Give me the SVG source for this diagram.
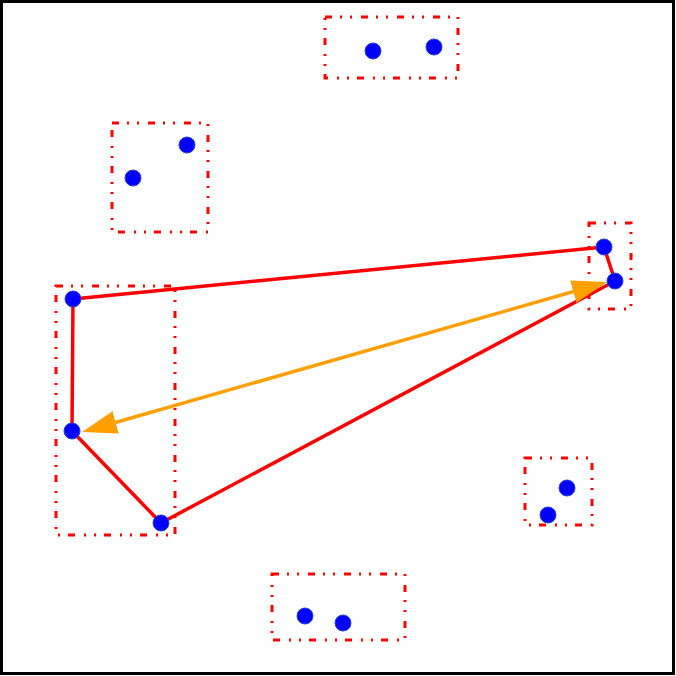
<svg xmlns="http://www.w3.org/2000/svg" width="676" height="676" viewBox="0 0 676 676">
<style>
.box{fill:none;stroke:#ff0000;stroke-width:3;stroke-dasharray:7 8 2 8 2 9}
.node{fill:#0000ff;stroke:#2a3fd8;stroke-width:1}
.edge{fill:none;stroke:#ff0000;stroke-width:3.5;stroke-linejoin:round}
.arrow{fill:none;stroke:#ffa000;stroke-width:3.5}
</style>
<defs>
<marker id="ah" markerUnits="userSpaceOnUse" markerWidth="36" markerHeight="24" refX="24" refY="11.5" orient="auto-start-reverse" viewBox="0 0 36 24">
<path d="M0,0 L35,11.5 L0,23 Z" fill="#ffa000"/>
</marker>
</defs>
<rect x="0" y="0" width="676" height="676" fill="#ffffff"/>
<rect x="1.5" y="1.5" width="672" height="672" fill="none" stroke="#000000" stroke-width="3"/>
<g id="boxes">
<rect class="box" x="325" y="17" width="133" height="61"/>
<rect class="box" x="112" y="123" width="96" height="109"/>
<rect class="box" x="589" y="223" width="42" height="86"/>
<rect class="box" x="56" y="286" width="119" height="249"/>
<rect class="box" x="525" y="458" width="67" height="67"/>
<rect class="box" x="272" y="574" width="133" height="66"/>
</g>
<g id="connectors">
<path class="edge" d="M73,299 L604,247 L615,281 L161,523 L72,431 Z"/>
<line class="arrow" x1="596.4" y1="285" x2="92.6" y2="429" marker-start="url(#ah)" marker-end="url(#ah)"/>
</g>
<g id="n1"><circle class="node" cx="373" cy="51" r="8"/></g>
<g id="n2"><circle class="node" cx="434" cy="47" r="8"/></g>
<g id="n3"><circle class="node" cx="187" cy="145" r="8"/></g>
<g id="n4"><circle class="node" cx="133" cy="178" r="8"/></g>
<g id="n5"><circle class="node" cx="604" cy="247" r="8"/></g>
<g id="n6"><circle class="node" cx="615" cy="281" r="8"/></g>
<g id="n7"><circle class="node" cx="73" cy="299" r="8"/></g>
<g id="n8"><circle class="node" cx="72" cy="431" r="8"/></g>
<g id="n9"><circle class="node" cx="161" cy="523" r="8"/></g>
<g id="n10"><circle class="node" cx="567" cy="488" r="8"/></g>
<g id="n11"><circle class="node" cx="548" cy="515" r="8"/></g>
<g id="n12"><circle class="node" cx="305" cy="616" r="8"/></g>
<g id="n13"><circle class="node" cx="343" cy="623" r="8"/></g>
</svg>
